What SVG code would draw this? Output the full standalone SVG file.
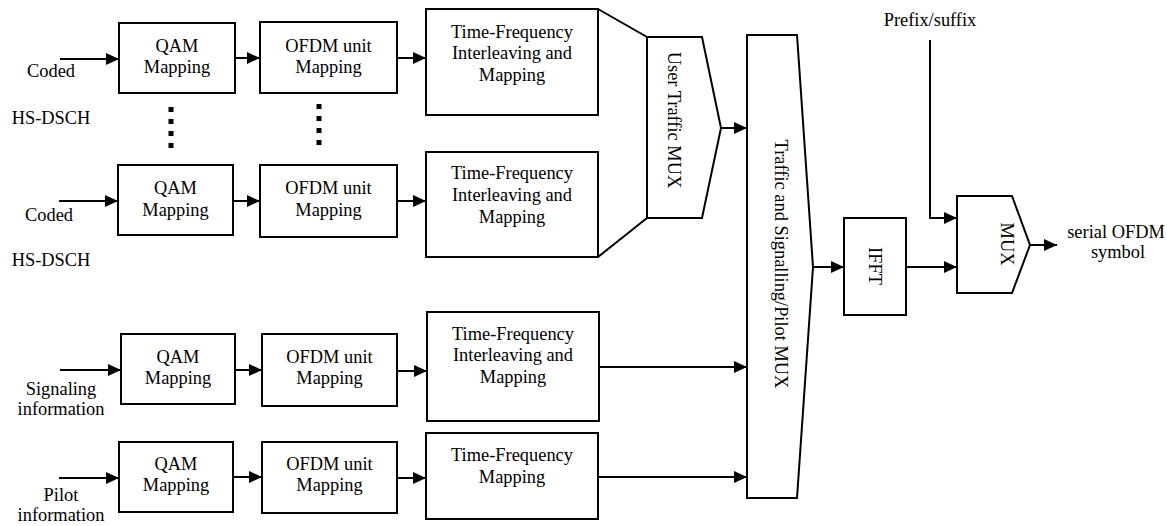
<svg xmlns="http://www.w3.org/2000/svg" width="1167" height="526" viewBox="0 0 1167 526">
<style>
.box{fill:#fff;stroke:#000;stroke-width:2}
.ln{fill:none;stroke:#000;stroke-width:2}
.t{font-family:"Liberation Serif","Times New Roman",serif;font-size:18.4px;fill:#000;text-anchor:middle}
.dots{fill:none;stroke:#000;stroke-width:5;stroke-dasharray:5 7}
</style>
<defs>
<marker id="ah" markerUnits="userSpaceOnUse" markerWidth="14" markerHeight="13" refX="13" refY="6" orient="auto">
<path d="M0,0 L13,6 L0,12 z" fill="#000"/>
</marker>
</defs>
<rect width="1167" height="526" fill="#fff"/>

<g id="input-labels">
<text class="t" x="51" y="77">Coded</text>
<text class="t" x="51" y="124">HS-DSCH</text>
<text class="t" x="49" y="221">Coded</text>
<text class="t" x="51" y="266">HS-DSCH</text>
<text class="t" x="61" y="395">Signaling</text>
<text class="t" x="61" y="415">information</text>
<text class="t" x="61" y="501">Pilot</text>
<text class="t" x="61" y="521">information</text>
</g>

<g id="qam1"><rect class="box" x="119" y="23" width="116" height="70"/><text class="t" x="177" y="51.5">QAM</text><text class="t" x="177" y="72.5">Mapping</text></g>
<g id="ofdm1"><rect class="box" x="260" y="22" width="137" height="71"/><text class="t" x="328.5" y="51.5">OFDM unit</text><text class="t" x="328.5" y="72.5">Mapping</text></g>
<g id="tf1"><rect class="box" x="426" y="9" width="172" height="106"/><text class="t" x="512" y="37.5">Time-Frequency</text><text class="t" x="512" y="59">Interleaving and</text><text class="t" x="512" y="80.5">Mapping</text></g>

<g id="qam2"><rect class="box" x="118" y="165" width="115" height="70"/><text class="t" x="175.5" y="194">QAM</text><text class="t" x="175.5" y="215.5">Mapping</text></g>
<g id="ofdm2"><rect class="box" x="260" y="165" width="137" height="72"/><text class="t" x="328.5" y="194">OFDM unit</text><text class="t" x="328.5" y="215.5">Mapping</text></g>
<g id="tf2"><rect class="box" x="426" y="152" width="172" height="105"/><text class="t" x="512" y="179">Time-Frequency</text><text class="t" x="512" y="201">Interleaving and</text><text class="t" x="512" y="222.5">Mapping</text></g>

<g id="qam3"><rect class="box" x="121" y="334" width="114" height="70"/><text class="t" x="178" y="362.5">QAM</text><text class="t" x="178" y="384">Mapping</text></g>
<g id="ofdm3"><rect class="box" x="262" y="334" width="135" height="72"/><text class="t" x="329.5" y="362.5">OFDM unit</text><text class="t" x="329.5" y="384">Mapping</text></g>
<g id="tf3"><rect class="box" x="427" y="312" width="172" height="109"/><text class="t" x="513" y="339.5">Time-Frequency</text><text class="t" x="513" y="361">Interleaving and</text><text class="t" x="513" y="382.5">Mapping</text></g>

<g id="qam4"><rect class="box" x="119" y="442" width="114" height="70"/><text class="t" x="176" y="469.5">QAM</text><text class="t" x="176" y="490.5">Mapping</text></g>
<g id="ofdm4"><rect class="box" x="262" y="442" width="135" height="71"/><text class="t" x="329.5" y="469.5">OFDM unit</text><text class="t" x="329.5" y="490.5">Mapping</text></g>
<g id="tf4"><rect class="box" x="426" y="433" width="172" height="86"/><text class="t" x="512" y="460.5">Time-Frequency</text><text class="t" x="512" y="482.5">Mapping</text></g>

<g id="user-traffic-mux"><path class="box" d="M647,37 L702,37 L721,128 L702,218 L647,218 Z"/><text class="t" transform="translate(668,120) rotate(90)">User Traffic MUX</text></g>
<g id="traffic-signalling-pilot-mux"><path class="box" d="M747,35 L797,35 L813,267 L797,498 L747,498 Z"/><text class="t" transform="translate(775,264) rotate(90)">Traffic and Signalling/Pilot MUX</text></g>
<g id="ifft"><rect class="box" x="844" y="218" width="62" height="97"/><text class="t" transform="translate(869,266) rotate(90)">IFFT</text></g>
<g id="mux"><path class="box" d="M957,196 L1012,196 L1030,245 L1012,293 L957,293 Z"/><text class="t" transform="translate(1001,244) rotate(90)">MUX</text></g>

<g id="output-labels">
<text class="t" x="930" y="26">Prefix/suffix</text>
<text class="t" x="1116" y="238">serial OFDM</text>
<text class="t" x="1118" y="258">symbol</text>
</g>

<g id="ellipses">
<line class="dots" x1="171" y1="107" x2="171" y2="150"/>
<line class="dots" x1="319" y1="104" x2="319" y2="147"/>
</g>

<g id="connectors">
<line class="ln" x1="60" y1="59" x2="119" y2="59" marker-end="url(#ah)"/>
<line class="ln" x1="235" y1="58" x2="260" y2="58" marker-end="url(#ah)"/>
<line class="ln" x1="397" y1="58" x2="426" y2="58" marker-end="url(#ah)"/>
<line class="ln" x1="59" y1="201" x2="118" y2="201" marker-end="url(#ah)"/>
<line class="ln" x1="233" y1="201" x2="260" y2="201" marker-end="url(#ah)"/>
<line class="ln" x1="397" y1="201" x2="426" y2="201" marker-end="url(#ah)"/>
<line class="ln" x1="60" y1="370" x2="121" y2="370" marker-end="url(#ah)"/>
<line class="ln" x1="235" y1="370" x2="262" y2="370" marker-end="url(#ah)"/>
<line class="ln" x1="397" y1="371" x2="427" y2="371" marker-end="url(#ah)"/>
<line class="ln" x1="59" y1="478" x2="119" y2="478" marker-end="url(#ah)"/>
<line class="ln" x1="233" y1="477" x2="262" y2="477" marker-end="url(#ah)"/>
<line class="ln" x1="397" y1="478" x2="426" y2="478" marker-end="url(#ah)"/>
<line class="ln" x1="598" y1="9" x2="647" y2="37"/>
<line class="ln" x1="598" y1="257" x2="647" y2="218"/>
<line class="ln" x1="721" y1="128" x2="747" y2="128" marker-end="url(#ah)"/>
<line class="ln" x1="599" y1="367" x2="747" y2="367" marker-end="url(#ah)"/>
<line class="ln" x1="598" y1="477" x2="747" y2="477" marker-end="url(#ah)"/>
<line class="ln" x1="813" y1="267" x2="844" y2="267" marker-end="url(#ah)"/>
<line class="ln" x1="906" y1="267" x2="957" y2="267" marker-end="url(#ah)"/>
<polyline class="ln" points="930,40 930,218 957,218" marker-end="url(#ah)"/>
<line class="ln" x1="1030" y1="245" x2="1057" y2="245" marker-end="url(#ah)"/>
</g>
</svg>
